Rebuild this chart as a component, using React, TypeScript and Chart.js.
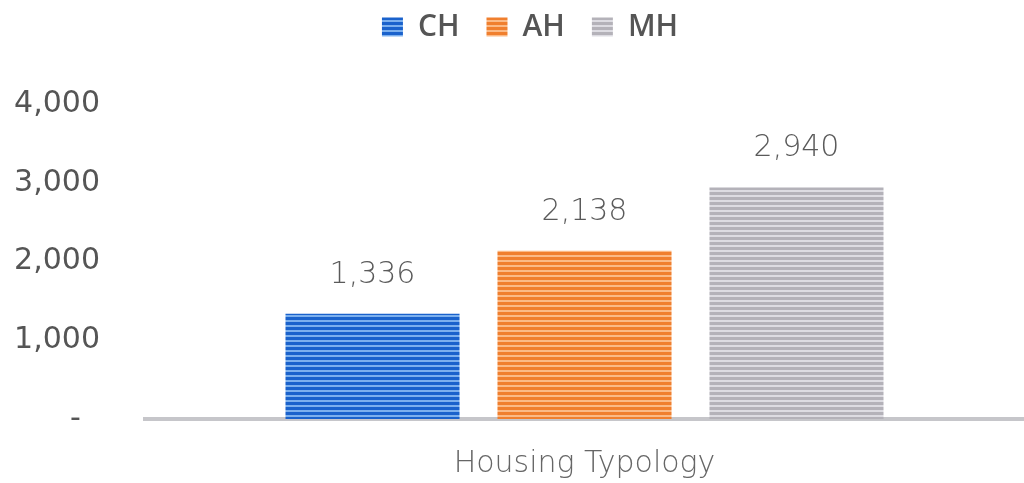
import React, { useEffect, useRef } from 'react';
import { Chart, registerables } from 'chart.js';

Chart.register(...registerables);

const categories = ['Housing Typology'];
const seriesNames = ['CH', 'AH', 'MH'];
const chValues = [1336];
const ahValues = [2138];
const mhValues = [2940];
const yTickValues = [0, 1000, 2000, 3000, 4000];
const yTickLabels = ['-  ', '1,000', '2,000', '3,000', '4,000'];

function stripePattern(dark: string, light: string, period = 5, lightRows = 2) {
  const c = document.createElement('canvas');
  c.width = 4;
  c.height = period;
  const x = c.getContext('2d')!;
  x.fillStyle = dark;
  x.fillRect(0, 0, 4, period);
  x.fillStyle = light;
  x.fillRect(0, 0, 4, lightRows);
  return x.createPattern(c, 'repeat')!;
}

const legendTweakPlugin = {
  id: 'legendTweak',
  beforeInit(chart: any) {
    const legend = chart.legend;
    if (!legend) return;
    const origFit = legend.fit;
    legend.fit = function () {
      origFit.call(this);
      this.height = 104;
    };
    const origDraw = legend.draw;
    legend.draw = function () {
      const ctx = this.ctx;
      ctx.save();
      ctx.translate(18, -15);
      origDraw.call(this);
      ctx.restore();
    };
  },
};

const valueLabelsPlugin = {
  id: 'valueLabels',
  afterDatasetsDraw(chart: any) {
    const ctx = chart.ctx;
    ctx.save();
    ctx.font = '300 30px "DejaVu Sans"';
    ctx.fillStyle = '#5a5a5a';
    ctx.textAlign = 'center';
    ctx.textBaseline = 'alphabetic';
    chart.data.datasets.forEach((ds: any, i: number) => {
      const meta = chart.getDatasetMeta(i);
      meta.data.forEach((bar: any, j: number) => {
        const v = ds.data[j] as number;
        ctx.fillText(v.toLocaleString('en-US'), bar.x, bar.y - 31);
      });
    });
    ctx.restore();
  },
};

export default function App() {
  const ref = useRef<HTMLCanvasElement>(null);

  useEffect(() => {
    if (!ref.current) return;
    const fills = [
      stripePattern('#1a62cc', '#7cb0ee'),
      stripePattern('#f07f2e', '#fbba86'),
      stripePattern('#b4b2b9', '#dddce2'),
    ];
    const values = [chValues, ahValues, mhValues];
    const chart = new Chart(ref.current, {
      type: 'bar',
      data: {
        labels: categories,
        datasets: seriesNames.map((name, i) => ({
          label: name,
          data: values[i],
          backgroundColor: fills[i],
          borderWidth: 0,
          categoryPercentage: 0.7235,
          barPercentage: 0.821,
        })),
      },
      options: {
        responsive: false,
        animation: false,
        layout: { padding: { left: 0, top: 0, right: 0, bottom: 0 } },
        plugins: {
          legend: {
            display: true,
            position: 'top',
            labels: {
              boxWidth: 21,
              boxHeight: 19,
              padding: 27,
              color: '#555555',
              font: { family: '"Open Sans"', size: 30, weight: 600 },
            },
          },
          tooltip: { enabled: false },
        },
        scales: {
          x: {
            grid: { display: false, drawTicks: false },
            border: { display: true, color: '#c6c6ca', width: 4 },
            ticks: {
              padding: 27,
              color: '#666666',
              font: { family: '"DejaVu Sans"', size: 30, weight: 300 },
            },
            afterFit(scale: any) {
              scale.height = 64;
            },
          },
          y: {
            min: 0,
            max: 4000,
            grid: { display: false, drawTicks: false },
            border: { display: false },
            afterBuildTicks(scale: any) {
              scale.ticks = yTickValues.map((v) => ({ value: v }));
            },
            ticks: {
              padding: 45,
              color: '#555555',
              font: { family: '"DejaVu Sans"', size: 30 },
              callback: (v: any) => {
                const idx = yTickValues.indexOf(Number(v));
                return idx >= 0 ? yTickLabels[idx] : '';
              },
            },
            afterFit(scale: any) {
              scale.width = 145;
            },
          },
        },
      },
      plugins: [legendTweakPlugin, valueLabelsPlugin],
    } as any);
    return () => chart.destroy();
  }, []);

  return (
    <div style={{ position: 'fixed', left: 0, top: 0, width: 1024, height: 483, background: '#ffffff' }}>
      <canvas ref={ref} width={1024} height={483} style={{ width: 1024, height: 483, display: 'block' }} />
    </div>
  );
}
